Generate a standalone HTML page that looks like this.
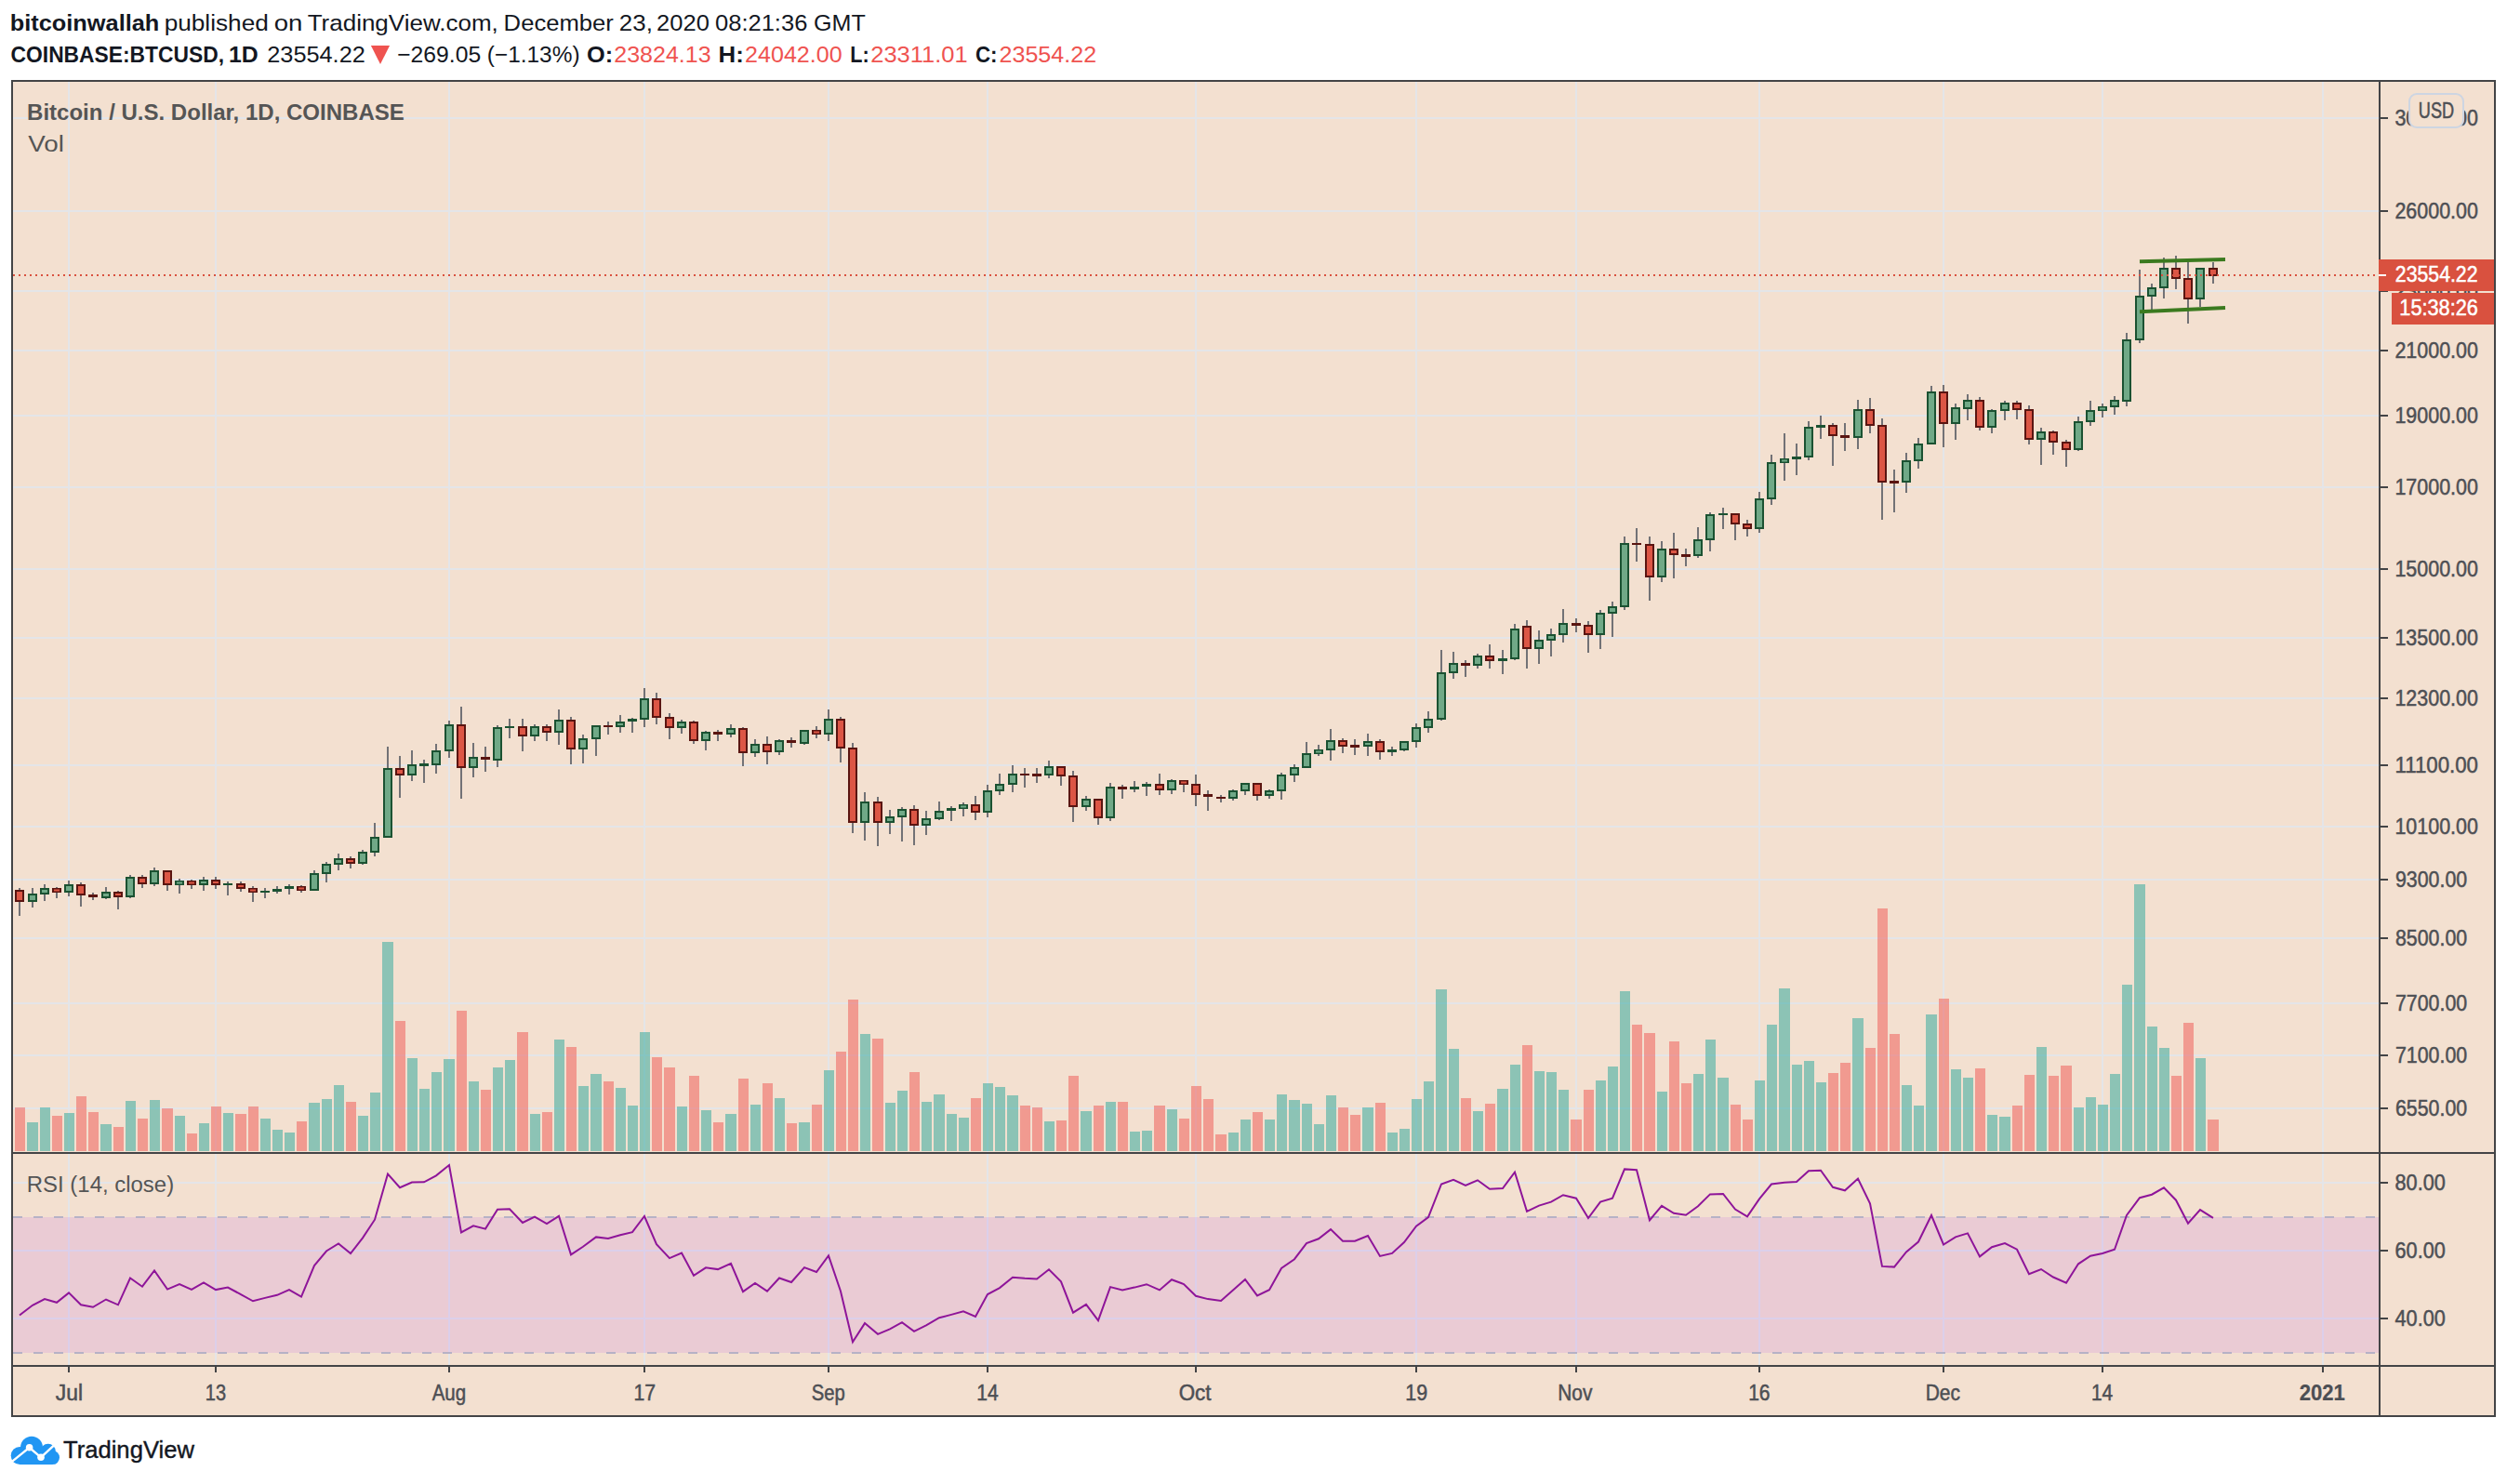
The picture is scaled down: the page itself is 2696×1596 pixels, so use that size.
<!DOCTYPE html>
<html><head><meta charset="utf-8"><title>BTCUSD chart</title>
<style>html,body{margin:0;padding:0;background:#fff}body{width:2696px;height:1596px;position:relative;overflow:hidden}</style></head>
<body>
<svg width="2696" height="1596" viewBox="0 0 2696 1596" font-family='"Liberation Sans", Arial, sans-serif' style="position:absolute;left:0;top:0">
<rect x="12" y="86" width="2672" height="1438" fill="#f3e0d0"/>
<g fill="#e4e5e8" shape-rendering="crispEdges">
<rect x="73" y="88" width="2" height="1380"/>
<rect x="231" y="88" width="2" height="1380"/>
<rect x="482" y="88" width="2" height="1380"/>
<rect x="692" y="88" width="2" height="1380"/>
<rect x="890" y="88" width="2" height="1380"/>
<rect x="1061" y="88" width="2" height="1380"/>
<rect x="1285" y="88" width="2" height="1380"/>
<rect x="1522" y="88" width="2" height="1380"/>
<rect x="1694" y="88" width="2" height="1380"/>
<rect x="1891" y="88" width="2" height="1380"/>
<rect x="2089" y="88" width="2" height="1380"/>
<rect x="2260" y="88" width="2" height="1380"/>
<rect x="2497" y="88" width="2" height="1380"/>
<rect x="14" y="126" width="2544" height="2"/>
<rect x="14" y="226" width="2544" height="2"/>
<rect x="14" y="312" width="2544" height="2"/>
<rect x="14" y="376" width="2544" height="2"/>
<rect x="14" y="446" width="2544" height="2"/>
<rect x="14" y="523" width="2544" height="2"/>
<rect x="14" y="611" width="2544" height="2"/>
<rect x="14" y="685" width="2544" height="2"/>
<rect x="14" y="750" width="2544" height="2"/>
<rect x="14" y="822" width="2544" height="2"/>
<rect x="14" y="888" width="2544" height="2"/>
<rect x="14" y="945" width="2544" height="2"/>
<rect x="14" y="1008" width="2544" height="2"/>
<rect x="14" y="1078" width="2544" height="2"/>
<rect x="14" y="1134" width="2544" height="2"/>
<rect x="14" y="1191" width="2544" height="2"/>
<rect x="14" y="1271" width="2544" height="2"/>
<rect x="14" y="1344" width="2544" height="2"/>
<rect x="14" y="1417" width="2544" height="2"/>
</g>
<rect x="14" y="1309" width="2544" height="146" fill="rgba(153,21,255,0.1)"/>
<line x1="14" y1="1309" x2="2558" y2="1309" stroke="#b6b2c6" stroke-width="2" stroke-dasharray="10 12"/>
<line x1="14" y1="1455" x2="2558" y2="1455" stroke="#b6b2c6" stroke-width="2" stroke-dasharray="10 12"/>
<g shape-rendering="crispEdges">
<rect x="16" y="1191" width="11" height="47" fill="rgba(239,83,80,0.5)"/>
<rect x="29" y="1207" width="12" height="31" fill="rgba(38,166,154,0.5)"/>
<rect x="43" y="1191" width="11" height="47" fill="rgba(38,166,154,0.5)"/>
<rect x="56" y="1200" width="11" height="38" fill="rgba(239,83,80,0.5)"/>
<rect x="69" y="1197" width="11" height="41" fill="rgba(38,166,154,0.5)"/>
<rect x="82" y="1179" width="11" height="59" fill="rgba(239,83,80,0.5)"/>
<rect x="95" y="1196" width="11" height="42" fill="rgba(239,83,80,0.5)"/>
<rect x="108" y="1209" width="12" height="29" fill="rgba(38,166,154,0.5)"/>
<rect x="122" y="1212" width="11" height="26" fill="rgba(239,83,80,0.5)"/>
<rect x="135" y="1184" width="11" height="54" fill="rgba(38,166,154,0.5)"/>
<rect x="148" y="1203" width="11" height="35" fill="rgba(239,83,80,0.5)"/>
<rect x="161" y="1183" width="11" height="55" fill="rgba(38,166,154,0.5)"/>
<rect x="174" y="1192" width="12" height="46" fill="rgba(239,83,80,0.5)"/>
<rect x="188" y="1200" width="11" height="38" fill="rgba(38,166,154,0.5)"/>
<rect x="201" y="1219" width="11" height="19" fill="rgba(239,83,80,0.5)"/>
<rect x="214" y="1208" width="11" height="30" fill="rgba(38,166,154,0.5)"/>
<rect x="227" y="1190" width="11" height="48" fill="rgba(239,83,80,0.5)"/>
<rect x="240" y="1197" width="11" height="41" fill="rgba(38,166,154,0.5)"/>
<rect x="253" y="1198" width="12" height="40" fill="rgba(239,83,80,0.5)"/>
<rect x="267" y="1190" width="11" height="48" fill="rgba(239,83,80,0.5)"/>
<rect x="280" y="1203" width="11" height="35" fill="rgba(38,166,154,0.5)"/>
<rect x="293" y="1215" width="11" height="23" fill="rgba(38,166,154,0.5)"/>
<rect x="306" y="1218" width="11" height="20" fill="rgba(38,166,154,0.5)"/>
<rect x="319" y="1206" width="11" height="32" fill="rgba(239,83,80,0.5)"/>
<rect x="332" y="1186" width="12" height="52" fill="rgba(38,166,154,0.5)"/>
<rect x="346" y="1182" width="11" height="56" fill="rgba(38,166,154,0.5)"/>
<rect x="359" y="1167" width="11" height="71" fill="rgba(38,166,154,0.5)"/>
<rect x="372" y="1185" width="11" height="53" fill="rgba(239,83,80,0.5)"/>
<rect x="385" y="1200" width="11" height="38" fill="rgba(38,166,154,0.5)"/>
<rect x="398" y="1175" width="11" height="63" fill="rgba(38,166,154,0.5)"/>
<rect x="411" y="1013" width="12" height="225" fill="rgba(38,166,154,0.5)"/>
<rect x="425" y="1098" width="11" height="140" fill="rgba(239,83,80,0.5)"/>
<rect x="438" y="1138" width="11" height="100" fill="rgba(38,166,154,0.5)"/>
<rect x="451" y="1171" width="11" height="67" fill="rgba(38,166,154,0.5)"/>
<rect x="464" y="1153" width="11" height="85" fill="rgba(38,166,154,0.5)"/>
<rect x="477" y="1139" width="12" height="99" fill="rgba(38,166,154,0.5)"/>
<rect x="491" y="1087" width="11" height="151" fill="rgba(239,83,80,0.5)"/>
<rect x="504" y="1163" width="11" height="75" fill="rgba(38,166,154,0.5)"/>
<rect x="517" y="1172" width="11" height="66" fill="rgba(239,83,80,0.5)"/>
<rect x="530" y="1148" width="11" height="90" fill="rgba(38,166,154,0.5)"/>
<rect x="543" y="1140" width="11" height="98" fill="rgba(38,166,154,0.5)"/>
<rect x="556" y="1110" width="12" height="128" fill="rgba(239,83,80,0.5)"/>
<rect x="570" y="1198" width="11" height="40" fill="rgba(38,166,154,0.5)"/>
<rect x="583" y="1196" width="11" height="42" fill="rgba(239,83,80,0.5)"/>
<rect x="596" y="1118" width="11" height="120" fill="rgba(38,166,154,0.5)"/>
<rect x="609" y="1126" width="11" height="112" fill="rgba(239,83,80,0.5)"/>
<rect x="622" y="1168" width="11" height="70" fill="rgba(38,166,154,0.5)"/>
<rect x="635" y="1155" width="12" height="83" fill="rgba(38,166,154,0.5)"/>
<rect x="649" y="1163" width="11" height="75" fill="rgba(239,83,80,0.5)"/>
<rect x="662" y="1170" width="11" height="68" fill="rgba(38,166,154,0.5)"/>
<rect x="675" y="1189" width="11" height="49" fill="rgba(38,166,154,0.5)"/>
<rect x="688" y="1110" width="11" height="128" fill="rgba(38,166,154,0.5)"/>
<rect x="701" y="1137" width="11" height="101" fill="rgba(239,83,80,0.5)"/>
<rect x="714" y="1148" width="12" height="90" fill="rgba(239,83,80,0.5)"/>
<rect x="728" y="1190" width="11" height="48" fill="rgba(38,166,154,0.5)"/>
<rect x="741" y="1157" width="11" height="81" fill="rgba(239,83,80,0.5)"/>
<rect x="754" y="1194" width="11" height="44" fill="rgba(38,166,154,0.5)"/>
<rect x="767" y="1207" width="11" height="31" fill="rgba(239,83,80,0.5)"/>
<rect x="780" y="1198" width="12" height="40" fill="rgba(38,166,154,0.5)"/>
<rect x="794" y="1160" width="11" height="78" fill="rgba(239,83,80,0.5)"/>
<rect x="807" y="1188" width="11" height="50" fill="rgba(38,166,154,0.5)"/>
<rect x="820" y="1165" width="11" height="73" fill="rgba(239,83,80,0.5)"/>
<rect x="833" y="1181" width="11" height="57" fill="rgba(38,166,154,0.5)"/>
<rect x="846" y="1208" width="11" height="30" fill="rgba(239,83,80,0.5)"/>
<rect x="859" y="1207" width="12" height="31" fill="rgba(38,166,154,0.5)"/>
<rect x="873" y="1188" width="11" height="50" fill="rgba(239,83,80,0.5)"/>
<rect x="886" y="1151" width="11" height="87" fill="rgba(38,166,154,0.5)"/>
<rect x="899" y="1131" width="11" height="107" fill="rgba(239,83,80,0.5)"/>
<rect x="912" y="1075" width="11" height="163" fill="rgba(239,83,80,0.5)"/>
<rect x="925" y="1112" width="11" height="126" fill="rgba(38,166,154,0.5)"/>
<rect x="938" y="1117" width="12" height="121" fill="rgba(239,83,80,0.5)"/>
<rect x="952" y="1186" width="11" height="52" fill="rgba(38,166,154,0.5)"/>
<rect x="965" y="1173" width="11" height="65" fill="rgba(38,166,154,0.5)"/>
<rect x="978" y="1153" width="11" height="85" fill="rgba(239,83,80,0.5)"/>
<rect x="991" y="1185" width="11" height="53" fill="rgba(38,166,154,0.5)"/>
<rect x="1004" y="1177" width="12" height="61" fill="rgba(38,166,154,0.5)"/>
<rect x="1018" y="1198" width="11" height="40" fill="rgba(38,166,154,0.5)"/>
<rect x="1031" y="1202" width="11" height="36" fill="rgba(38,166,154,0.5)"/>
<rect x="1044" y="1181" width="11" height="57" fill="rgba(239,83,80,0.5)"/>
<rect x="1057" y="1165" width="11" height="73" fill="rgba(38,166,154,0.5)"/>
<rect x="1070" y="1169" width="11" height="69" fill="rgba(38,166,154,0.5)"/>
<rect x="1083" y="1178" width="12" height="60" fill="rgba(38,166,154,0.5)"/>
<rect x="1097" y="1189" width="11" height="49" fill="rgba(239,83,80,0.5)"/>
<rect x="1110" y="1191" width="11" height="47" fill="rgba(239,83,80,0.5)"/>
<rect x="1123" y="1206" width="11" height="32" fill="rgba(38,166,154,0.5)"/>
<rect x="1136" y="1205" width="11" height="33" fill="rgba(239,83,80,0.5)"/>
<rect x="1149" y="1157" width="11" height="81" fill="rgba(239,83,80,0.5)"/>
<rect x="1162" y="1195" width="12" height="43" fill="rgba(38,166,154,0.5)"/>
<rect x="1176" y="1189" width="11" height="49" fill="rgba(239,83,80,0.5)"/>
<rect x="1189" y="1185" width="11" height="53" fill="rgba(38,166,154,0.5)"/>
<rect x="1202" y="1185" width="11" height="53" fill="rgba(239,83,80,0.5)"/>
<rect x="1215" y="1217" width="11" height="21" fill="rgba(38,166,154,0.5)"/>
<rect x="1228" y="1216" width="11" height="22" fill="rgba(38,166,154,0.5)"/>
<rect x="1241" y="1189" width="12" height="49" fill="rgba(239,83,80,0.5)"/>
<rect x="1255" y="1193" width="11" height="45" fill="rgba(38,166,154,0.5)"/>
<rect x="1268" y="1203" width="11" height="35" fill="rgba(239,83,80,0.5)"/>
<rect x="1281" y="1168" width="11" height="70" fill="rgba(239,83,80,0.5)"/>
<rect x="1294" y="1182" width="11" height="56" fill="rgba(239,83,80,0.5)"/>
<rect x="1307" y="1220" width="12" height="18" fill="rgba(239,83,80,0.5)"/>
<rect x="1321" y="1218" width="11" height="20" fill="rgba(38,166,154,0.5)"/>
<rect x="1334" y="1204" width="11" height="34" fill="rgba(38,166,154,0.5)"/>
<rect x="1347" y="1196" width="11" height="42" fill="rgba(239,83,80,0.5)"/>
<rect x="1360" y="1204" width="11" height="34" fill="rgba(38,166,154,0.5)"/>
<rect x="1373" y="1177" width="11" height="61" fill="rgba(38,166,154,0.5)"/>
<rect x="1386" y="1183" width="12" height="55" fill="rgba(38,166,154,0.5)"/>
<rect x="1400" y="1187" width="11" height="51" fill="rgba(38,166,154,0.5)"/>
<rect x="1413" y="1209" width="11" height="29" fill="rgba(38,166,154,0.5)"/>
<rect x="1426" y="1178" width="11" height="60" fill="rgba(38,166,154,0.5)"/>
<rect x="1439" y="1191" width="11" height="47" fill="rgba(239,83,80,0.5)"/>
<rect x="1452" y="1199" width="11" height="39" fill="rgba(239,83,80,0.5)"/>
<rect x="1465" y="1191" width="12" height="47" fill="rgba(38,166,154,0.5)"/>
<rect x="1479" y="1186" width="11" height="52" fill="rgba(239,83,80,0.5)"/>
<rect x="1492" y="1218" width="11" height="20" fill="rgba(38,166,154,0.5)"/>
<rect x="1505" y="1214" width="11" height="24" fill="rgba(38,166,154,0.5)"/>
<rect x="1518" y="1182" width="11" height="56" fill="rgba(38,166,154,0.5)"/>
<rect x="1531" y="1163" width="11" height="75" fill="rgba(38,166,154,0.5)"/>
<rect x="1544" y="1064" width="12" height="174" fill="rgba(38,166,154,0.5)"/>
<rect x="1558" y="1128" width="11" height="110" fill="rgba(38,166,154,0.5)"/>
<rect x="1571" y="1181" width="11" height="57" fill="rgba(239,83,80,0.5)"/>
<rect x="1584" y="1195" width="11" height="43" fill="rgba(38,166,154,0.5)"/>
<rect x="1597" y="1187" width="11" height="51" fill="rgba(239,83,80,0.5)"/>
<rect x="1610" y="1171" width="12" height="67" fill="rgba(38,166,154,0.5)"/>
<rect x="1624" y="1145" width="11" height="93" fill="rgba(38,166,154,0.5)"/>
<rect x="1637" y="1124" width="11" height="114" fill="rgba(239,83,80,0.5)"/>
<rect x="1650" y="1152" width="11" height="86" fill="rgba(38,166,154,0.5)"/>
<rect x="1663" y="1153" width="11" height="85" fill="rgba(38,166,154,0.5)"/>
<rect x="1676" y="1172" width="11" height="66" fill="rgba(38,166,154,0.5)"/>
<rect x="1689" y="1204" width="12" height="34" fill="rgba(239,83,80,0.5)"/>
<rect x="1703" y="1172" width="11" height="66" fill="rgba(239,83,80,0.5)"/>
<rect x="1716" y="1162" width="11" height="76" fill="rgba(38,166,154,0.5)"/>
<rect x="1729" y="1147" width="11" height="91" fill="rgba(38,166,154,0.5)"/>
<rect x="1742" y="1066" width="11" height="172" fill="rgba(38,166,154,0.5)"/>
<rect x="1755" y="1102" width="11" height="136" fill="rgba(239,83,80,0.5)"/>
<rect x="1768" y="1111" width="12" height="127" fill="rgba(239,83,80,0.5)"/>
<rect x="1782" y="1174" width="11" height="64" fill="rgba(38,166,154,0.5)"/>
<rect x="1795" y="1120" width="11" height="118" fill="rgba(239,83,80,0.5)"/>
<rect x="1808" y="1165" width="11" height="73" fill="rgba(239,83,80,0.5)"/>
<rect x="1821" y="1155" width="11" height="83" fill="rgba(38,166,154,0.5)"/>
<rect x="1834" y="1118" width="11" height="120" fill="rgba(38,166,154,0.5)"/>
<rect x="1847" y="1159" width="12" height="79" fill="rgba(38,166,154,0.5)"/>
<rect x="1861" y="1188" width="11" height="50" fill="rgba(239,83,80,0.5)"/>
<rect x="1874" y="1204" width="11" height="34" fill="rgba(239,83,80,0.5)"/>
<rect x="1887" y="1162" width="11" height="76" fill="rgba(38,166,154,0.5)"/>
<rect x="1900" y="1102" width="11" height="136" fill="rgba(38,166,154,0.5)"/>
<rect x="1913" y="1063" width="12" height="175" fill="rgba(38,166,154,0.5)"/>
<rect x="1927" y="1145" width="11" height="93" fill="rgba(38,166,154,0.5)"/>
<rect x="1940" y="1141" width="11" height="97" fill="rgba(38,166,154,0.5)"/>
<rect x="1953" y="1164" width="11" height="74" fill="rgba(38,166,154,0.5)"/>
<rect x="1966" y="1154" width="11" height="84" fill="rgba(239,83,80,0.5)"/>
<rect x="1979" y="1143" width="11" height="95" fill="rgba(239,83,80,0.5)"/>
<rect x="1992" y="1095" width="12" height="143" fill="rgba(38,166,154,0.5)"/>
<rect x="2006" y="1127" width="11" height="111" fill="rgba(239,83,80,0.5)"/>
<rect x="2019" y="977" width="11" height="261" fill="rgba(239,83,80,0.5)"/>
<rect x="2032" y="1112" width="11" height="126" fill="rgba(239,83,80,0.5)"/>
<rect x="2045" y="1167" width="11" height="71" fill="rgba(38,166,154,0.5)"/>
<rect x="2058" y="1189" width="11" height="49" fill="rgba(38,166,154,0.5)"/>
<rect x="2071" y="1091" width="12" height="147" fill="rgba(38,166,154,0.5)"/>
<rect x="2085" y="1074" width="11" height="164" fill="rgba(239,83,80,0.5)"/>
<rect x="2098" y="1150" width="11" height="88" fill="rgba(38,166,154,0.5)"/>
<rect x="2111" y="1159" width="11" height="79" fill="rgba(38,166,154,0.5)"/>
<rect x="2124" y="1149" width="11" height="89" fill="rgba(239,83,80,0.5)"/>
<rect x="2137" y="1199" width="11" height="39" fill="rgba(38,166,154,0.5)"/>
<rect x="2150" y="1201" width="12" height="37" fill="rgba(38,166,154,0.5)"/>
<rect x="2164" y="1189" width="11" height="49" fill="rgba(239,83,80,0.5)"/>
<rect x="2177" y="1156" width="11" height="82" fill="rgba(239,83,80,0.5)"/>
<rect x="2190" y="1126" width="11" height="112" fill="rgba(38,166,154,0.5)"/>
<rect x="2203" y="1157" width="11" height="81" fill="rgba(239,83,80,0.5)"/>
<rect x="2216" y="1146" width="12" height="92" fill="rgba(239,83,80,0.5)"/>
<rect x="2230" y="1191" width="11" height="47" fill="rgba(38,166,154,0.5)"/>
<rect x="2243" y="1180" width="11" height="58" fill="rgba(38,166,154,0.5)"/>
<rect x="2256" y="1188" width="11" height="50" fill="rgba(38,166,154,0.5)"/>
<rect x="2269" y="1155" width="11" height="83" fill="rgba(38,166,154,0.5)"/>
<rect x="2282" y="1059" width="11" height="179" fill="rgba(38,166,154,0.5)"/>
<rect x="2295" y="951" width="12" height="287" fill="rgba(38,166,154,0.5)"/>
<rect x="2309" y="1104" width="11" height="134" fill="rgba(38,166,154,0.5)"/>
<rect x="2322" y="1127" width="11" height="111" fill="rgba(38,166,154,0.5)"/>
<rect x="2335" y="1157" width="11" height="81" fill="rgba(239,83,80,0.5)"/>
<rect x="2348" y="1100" width="11" height="138" fill="rgba(239,83,80,0.5)"/>
<rect x="2361" y="1138" width="11" height="100" fill="rgba(38,166,154,0.5)"/>
<rect x="2374" y="1204" width="12" height="34" fill="rgba(239,83,80,0.5)"/>
</g>
<g shape-rendering="crispEdges">
<rect x="20" y="955" width="2" height="30" fill="#727276"/>
<rect x="16" y="957" width="10" height="13" fill="#5a1511"/><rect x="18" y="959" width="6" height="9" fill="#dc5645"/>
<rect x="34" y="955" width="2" height="21" fill="#727276"/>
<rect x="30" y="961" width="10" height="9" fill="#1b5232"/><rect x="32" y="963" width="6" height="5" fill="#70a987"/>
<rect x="47" y="951" width="2" height="18" fill="#727276"/>
<rect x="43" y="955" width="10" height="7" fill="#1b5232"/><rect x="45" y="957" width="6" height="3" fill="#70a987"/>
<rect x="60" y="954" width="2" height="12" fill="#727276"/>
<rect x="56" y="955" width="10" height="5" fill="#5a1511"/><rect x="58" y="956.5" width="6" height="2" fill="#dc5645" shape-rendering="auto"/>
<rect x="73" y="947" width="2" height="17" fill="#727276"/>
<rect x="69" y="951" width="10" height="9" fill="#1b5232"/><rect x="71" y="953" width="6" height="5" fill="#70a987"/>
<rect x="86" y="949" width="2" height="26" fill="#727276"/>
<rect x="82" y="951" width="10" height="12" fill="#5a1511"/><rect x="84" y="953" width="6" height="8" fill="#dc5645"/>
<rect x="99" y="960" width="2" height="8" fill="#727276"/>
<rect x="95" y="962" width="10" height="3" fill="#5a1511"/>
<rect x="113" y="954" width="2" height="13" fill="#727276"/>
<rect x="109" y="959" width="10" height="7" fill="#1b5232"/><rect x="111" y="961" width="6" height="3" fill="#70a987"/>
<rect x="126" y="958" width="2" height="20" fill="#727276"/>
<rect x="122" y="959" width="10" height="6" fill="#5a1511"/><rect x="124" y="961" width="6" height="2" fill="#dc5645"/>
<rect x="139" y="941" width="2" height="25" fill="#727276"/>
<rect x="135" y="943" width="10" height="22" fill="#1b5232"/><rect x="137" y="945" width="6" height="18" fill="#70a987"/>
<rect x="152" y="941" width="2" height="14" fill="#727276"/>
<rect x="148" y="943" width="10" height="8" fill="#5a1511"/><rect x="150" y="945" width="6" height="4" fill="#dc5645"/>
<rect x="165" y="933" width="2" height="20" fill="#727276"/>
<rect x="161" y="936" width="10" height="15" fill="#1b5232"/><rect x="163" y="938" width="6" height="11" fill="#70a987"/>
<rect x="179" y="936" width="2" height="22" fill="#727276"/>
<rect x="175" y="936" width="10" height="16" fill="#5a1511"/><rect x="177" y="938" width="6" height="12" fill="#dc5645"/>
<rect x="192" y="945" width="2" height="16" fill="#727276"/>
<rect x="188" y="947" width="10" height="5" fill="#1b5232"/><rect x="190" y="948.5" width="6" height="2" fill="#70a987" shape-rendering="auto"/>
<rect x="205" y="946" width="2" height="10" fill="#727276"/>
<rect x="201" y="947" width="10" height="5" fill="#5a1511"/><rect x="203" y="948.5" width="6" height="2" fill="#dc5645" shape-rendering="auto"/>
<rect x="218" y="943" width="2" height="15" fill="#727276"/>
<rect x="214" y="946" width="10" height="6" fill="#1b5232"/><rect x="216" y="948" width="6" height="2" fill="#70a987"/>
<rect x="231" y="943" width="2" height="13" fill="#727276"/>
<rect x="227" y="946" width="10" height="6" fill="#5a1511"/><rect x="229" y="948" width="6" height="2" fill="#dc5645"/>
<rect x="244" y="948" width="2" height="15" fill="#727276"/>
<rect x="240" y="950" width="10" height="2" fill="#1b5232"/>
<rect x="258" y="948" width="2" height="11" fill="#727276"/>
<rect x="254" y="950" width="10" height="6" fill="#5a1511"/><rect x="256" y="952" width="6" height="2" fill="#dc5645"/>
<rect x="271" y="953" width="2" height="17" fill="#727276"/>
<rect x="267" y="955" width="10" height="5" fill="#5a1511"/><rect x="269" y="956.5" width="6" height="2" fill="#dc5645" shape-rendering="auto"/>
<rect x="284" y="955" width="2" height="11" fill="#727276"/>
<rect x="280" y="958" width="10" height="2" fill="#1b5232"/>
<rect x="297" y="953" width="2" height="8" fill="#727276"/>
<rect x="293" y="956" width="10" height="3" fill="#1b5232"/>
<rect x="310" y="951" width="2" height="11" fill="#727276"/>
<rect x="306" y="953" width="10" height="3" fill="#1b5232"/>
<rect x="323" y="952" width="2" height="8" fill="#727276"/>
<rect x="319" y="953" width="10" height="5" fill="#5a1511"/><rect x="321" y="954.5" width="6" height="2" fill="#dc5645" shape-rendering="auto"/>
<rect x="337" y="936" width="2" height="22" fill="#727276"/>
<rect x="333" y="939" width="10" height="19" fill="#1b5232"/><rect x="335" y="941" width="6" height="15" fill="#70a987"/>
<rect x="350" y="927" width="2" height="22" fill="#727276"/>
<rect x="346" y="929" width="10" height="11" fill="#1b5232"/><rect x="348" y="931" width="6" height="7" fill="#70a987"/>
<rect x="363" y="918" width="2" height="18" fill="#727276"/>
<rect x="359" y="923" width="10" height="7" fill="#1b5232"/><rect x="361" y="925" width="6" height="3" fill="#70a987"/>
<rect x="376" y="921" width="2" height="13" fill="#727276"/>
<rect x="372" y="923" width="10" height="6" fill="#5a1511"/><rect x="374" y="925" width="6" height="2" fill="#dc5645"/>
<rect x="389" y="914" width="2" height="16" fill="#727276"/>
<rect x="385" y="916" width="10" height="13" fill="#1b5232"/><rect x="387" y="918" width="6" height="9" fill="#70a987"/>
<rect x="402" y="885" width="2" height="36" fill="#727276"/>
<rect x="398" y="900" width="10" height="17" fill="#1b5232"/><rect x="400" y="902" width="6" height="13" fill="#70a987"/>
<rect x="416" y="803" width="2" height="98" fill="#727276"/>
<rect x="412" y="826" width="10" height="75" fill="#1b5232"/><rect x="414" y="828" width="6" height="71" fill="#70a987"/>
<rect x="429" y="813" width="2" height="45" fill="#727276"/>
<rect x="425" y="826" width="10" height="8" fill="#5a1511"/><rect x="427" y="828" width="6" height="4" fill="#dc5645"/>
<rect x="442" y="807" width="2" height="33" fill="#727276"/>
<rect x="438" y="822" width="10" height="12" fill="#1b5232"/><rect x="440" y="824" width="6" height="8" fill="#70a987"/>
<rect x="455" y="817" width="2" height="25" fill="#727276"/>
<rect x="451" y="821" width="10" height="3" fill="#1b5232"/>
<rect x="468" y="800" width="2" height="32" fill="#727276"/>
<rect x="464" y="807" width="10" height="16" fill="#1b5232"/><rect x="466" y="809" width="6" height="12" fill="#70a987"/>
<rect x="482" y="775" width="2" height="40" fill="#727276"/>
<rect x="478" y="779" width="10" height="29" fill="#1b5232"/><rect x="480" y="781" width="6" height="25" fill="#70a987"/>
<rect x="495" y="760" width="2" height="99" fill="#727276"/>
<rect x="491" y="779" width="10" height="47" fill="#5a1511"/><rect x="493" y="781" width="6" height="43" fill="#dc5645"/>
<rect x="508" y="799" width="2" height="37" fill="#727276"/>
<rect x="504" y="814" width="10" height="12" fill="#1b5232"/><rect x="506" y="816" width="6" height="8" fill="#70a987"/>
<rect x="521" y="803" width="2" height="27" fill="#727276"/>
<rect x="517" y="814" width="10" height="3" fill="#5a1511"/>
<rect x="534" y="780" width="2" height="45" fill="#727276"/>
<rect x="530" y="782" width="10" height="36" fill="#1b5232"/><rect x="532" y="784" width="6" height="32" fill="#70a987"/>
<rect x="547" y="773" width="2" height="21" fill="#727276"/>
<rect x="543" y="781" width="10" height="2" fill="#1b5232"/>
<rect x="561" y="773" width="2" height="35" fill="#727276"/>
<rect x="557" y="781" width="10" height="11" fill="#5a1511"/><rect x="559" y="783" width="6" height="7" fill="#dc5645"/>
<rect x="574" y="779" width="2" height="18" fill="#727276"/>
<rect x="570" y="781" width="10" height="11" fill="#1b5232"/><rect x="572" y="783" width="6" height="7" fill="#70a987"/>
<rect x="587" y="779" width="2" height="18" fill="#727276"/>
<rect x="583" y="781" width="10" height="7" fill="#5a1511"/><rect x="585" y="783" width="6" height="3" fill="#dc5645"/>
<rect x="600" y="763" width="2" height="38" fill="#727276"/>
<rect x="596" y="774" width="10" height="14" fill="#1b5232"/><rect x="598" y="776" width="6" height="10" fill="#70a987"/>
<rect x="613" y="771" width="2" height="51" fill="#727276"/>
<rect x="609" y="774" width="10" height="32" fill="#5a1511"/><rect x="611" y="776" width="6" height="28" fill="#dc5645"/>
<rect x="626" y="790" width="2" height="31" fill="#727276"/>
<rect x="622" y="794" width="10" height="12" fill="#1b5232"/><rect x="624" y="796" width="6" height="8" fill="#70a987"/>
<rect x="640" y="780" width="2" height="33" fill="#727276"/>
<rect x="636" y="780" width="10" height="15" fill="#1b5232"/><rect x="638" y="782" width="6" height="11" fill="#70a987"/>
<rect x="653" y="776" width="2" height="14" fill="#727276"/>
<rect x="649" y="780" width="10" height="2" fill="#5a1511"/>
<rect x="666" y="769" width="2" height="19" fill="#727276"/>
<rect x="662" y="776" width="10" height="6" fill="#1b5232"/><rect x="664" y="778" width="6" height="2" fill="#70a987"/>
<rect x="679" y="772" width="2" height="16" fill="#727276"/>
<rect x="675" y="773" width="10" height="3" fill="#1b5232"/>
<rect x="692" y="740" width="2" height="42" fill="#727276"/>
<rect x="688" y="751" width="10" height="23" fill="#1b5232"/><rect x="690" y="753" width="6" height="19" fill="#70a987"/>
<rect x="705" y="745" width="2" height="34" fill="#727276"/>
<rect x="701" y="751" width="10" height="21" fill="#5a1511"/><rect x="703" y="753" width="6" height="17" fill="#dc5645"/>
<rect x="719" y="767" width="2" height="28" fill="#727276"/>
<rect x="715" y="771" width="10" height="12" fill="#5a1511"/><rect x="717" y="773" width="6" height="8" fill="#dc5645"/>
<rect x="732" y="774" width="2" height="15" fill="#727276"/>
<rect x="728" y="776" width="10" height="7" fill="#1b5232"/><rect x="730" y="778" width="6" height="3" fill="#70a987"/>
<rect x="745" y="775" width="2" height="25" fill="#727276"/>
<rect x="741" y="776" width="10" height="21" fill="#5a1511"/><rect x="743" y="778" width="6" height="17" fill="#dc5645"/>
<rect x="758" y="786" width="2" height="21" fill="#727276"/>
<rect x="754" y="787" width="10" height="10" fill="#1b5232"/><rect x="756" y="789" width="6" height="6" fill="#70a987"/>
<rect x="771" y="785" width="2" height="12" fill="#727276"/>
<rect x="767" y="787" width="10" height="3" fill="#5a1511"/>
<rect x="785" y="779" width="2" height="14" fill="#727276"/>
<rect x="781" y="783" width="10" height="7" fill="#1b5232"/><rect x="783" y="785" width="6" height="3" fill="#70a987"/>
<rect x="798" y="782" width="2" height="42" fill="#727276"/>
<rect x="794" y="783" width="10" height="27" fill="#5a1511"/><rect x="796" y="785" width="6" height="23" fill="#dc5645"/>
<rect x="811" y="795" width="2" height="19" fill="#727276"/>
<rect x="807" y="800" width="10" height="10" fill="#1b5232"/><rect x="809" y="802" width="6" height="6" fill="#70a987"/>
<rect x="824" y="792" width="2" height="30" fill="#727276"/>
<rect x="820" y="800" width="10" height="9" fill="#5a1511"/><rect x="822" y="802" width="6" height="5" fill="#dc5645"/>
<rect x="837" y="795" width="2" height="17" fill="#727276"/>
<rect x="833" y="796" width="10" height="13" fill="#1b5232"/><rect x="835" y="798" width="6" height="9" fill="#70a987"/>
<rect x="850" y="793" width="2" height="11" fill="#727276"/>
<rect x="846" y="796" width="10" height="3" fill="#5a1511"/>
<rect x="864" y="785" width="2" height="16" fill="#727276"/>
<rect x="860" y="785" width="10" height="15" fill="#1b5232"/><rect x="862" y="787" width="6" height="11" fill="#70a987"/>
<rect x="877" y="781" width="2" height="13" fill="#727276"/>
<rect x="873" y="785" width="10" height="5" fill="#5a1511"/><rect x="875" y="786.5" width="6" height="2" fill="#dc5645" shape-rendering="auto"/>
<rect x="890" y="763" width="2" height="34" fill="#727276"/>
<rect x="886" y="773" width="10" height="17" fill="#1b5232"/><rect x="888" y="775" width="6" height="13" fill="#70a987"/>
<rect x="903" y="771" width="2" height="49" fill="#727276"/>
<rect x="899" y="773" width="10" height="32" fill="#5a1511"/><rect x="901" y="775" width="6" height="28" fill="#dc5645"/>
<rect x="916" y="799" width="2" height="97" fill="#727276"/>
<rect x="912" y="804" width="10" height="81" fill="#5a1511"/><rect x="914" y="806" width="6" height="77" fill="#dc5645"/>
<rect x="929" y="852" width="2" height="52" fill="#727276"/>
<rect x="925" y="862" width="10" height="23" fill="#1b5232"/><rect x="927" y="864" width="6" height="19" fill="#70a987"/>
<rect x="943" y="857" width="2" height="53" fill="#727276"/>
<rect x="939" y="862" width="10" height="23" fill="#5a1511"/><rect x="941" y="864" width="6" height="19" fill="#dc5645"/>
<rect x="956" y="871" width="2" height="26" fill="#727276"/>
<rect x="952" y="878" width="10" height="7" fill="#1b5232"/><rect x="954" y="880" width="6" height="3" fill="#70a987"/>
<rect x="969" y="868" width="2" height="37" fill="#727276"/>
<rect x="965" y="870" width="10" height="9" fill="#1b5232"/><rect x="967" y="872" width="6" height="5" fill="#70a987"/>
<rect x="982" y="866" width="2" height="43" fill="#727276"/>
<rect x="978" y="870" width="10" height="18" fill="#5a1511"/><rect x="980" y="872" width="6" height="14" fill="#dc5645"/>
<rect x="995" y="872" width="2" height="26" fill="#727276"/>
<rect x="991" y="880" width="10" height="8" fill="#1b5232"/><rect x="993" y="882" width="6" height="4" fill="#70a987"/>
<rect x="1009" y="862" width="2" height="20" fill="#727276"/>
<rect x="1005" y="872" width="10" height="9" fill="#1b5232"/><rect x="1007" y="874" width="6" height="5" fill="#70a987"/>
<rect x="1022" y="867" width="2" height="16" fill="#727276"/>
<rect x="1018" y="869" width="10" height="3" fill="#1b5232"/>
<rect x="1035" y="863" width="2" height="15" fill="#727276"/>
<rect x="1031" y="865" width="10" height="5" fill="#1b5232"/><rect x="1033" y="866.5" width="6" height="2" fill="#70a987" shape-rendering="auto"/>
<rect x="1048" y="856" width="2" height="26" fill="#727276"/>
<rect x="1044" y="865" width="10" height="9" fill="#5a1511"/><rect x="1046" y="867" width="6" height="5" fill="#dc5645"/>
<rect x="1061" y="844" width="2" height="35" fill="#727276"/>
<rect x="1057" y="850" width="10" height="24" fill="#1b5232"/><rect x="1059" y="852" width="6" height="20" fill="#70a987"/>
<rect x="1074" y="832" width="2" height="23" fill="#727276"/>
<rect x="1070" y="843" width="10" height="8" fill="#1b5232"/><rect x="1072" y="845" width="6" height="4" fill="#70a987"/>
<rect x="1088" y="823" width="2" height="29" fill="#727276"/>
<rect x="1084" y="832" width="10" height="12" fill="#1b5232"/><rect x="1086" y="834" width="6" height="8" fill="#70a987"/>
<rect x="1101" y="826" width="2" height="21" fill="#727276"/>
<rect x="1097" y="832" width="10" height="2" fill="#5a1511"/>
<rect x="1114" y="826" width="2" height="16" fill="#727276"/>
<rect x="1110" y="832" width="10" height="3" fill="#5a1511"/>
<rect x="1127" y="818" width="2" height="19" fill="#727276"/>
<rect x="1123" y="824" width="10" height="10" fill="#1b5232"/><rect x="1125" y="826" width="6" height="6" fill="#70a987"/>
<rect x="1140" y="824" width="2" height="21" fill="#727276"/>
<rect x="1136" y="824" width="10" height="11" fill="#5a1511"/><rect x="1138" y="826" width="6" height="7" fill="#dc5645"/>
<rect x="1153" y="829" width="2" height="55" fill="#727276"/>
<rect x="1149" y="834" width="10" height="34" fill="#5a1511"/><rect x="1151" y="836" width="6" height="30" fill="#dc5645"/>
<rect x="1167" y="856" width="2" height="16" fill="#727276"/>
<rect x="1163" y="859" width="10" height="9" fill="#1b5232"/><rect x="1165" y="861" width="6" height="5" fill="#70a987"/>
<rect x="1180" y="859" width="2" height="28" fill="#727276"/>
<rect x="1176" y="859" width="10" height="21" fill="#5a1511"/><rect x="1178" y="861" width="6" height="17" fill="#dc5645"/>
<rect x="1193" y="842" width="2" height="41" fill="#727276"/>
<rect x="1189" y="846" width="10" height="34" fill="#1b5232"/><rect x="1191" y="848" width="6" height="30" fill="#70a987"/>
<rect x="1206" y="844" width="2" height="15" fill="#727276"/>
<rect x="1202" y="846" width="10" height="3" fill="#5a1511"/>
<rect x="1219" y="840" width="2" height="12" fill="#727276"/>
<rect x="1215" y="846" width="10" height="3" fill="#1b5232"/>
<rect x="1232" y="841" width="2" height="15" fill="#727276"/>
<rect x="1228" y="843" width="10" height="3" fill="#1b5232"/>
<rect x="1246" y="832" width="2" height="23" fill="#727276"/>
<rect x="1242" y="843" width="10" height="7" fill="#5a1511"/><rect x="1244" y="845" width="6" height="3" fill="#dc5645"/>
<rect x="1259" y="838" width="2" height="16" fill="#727276"/>
<rect x="1255" y="839" width="10" height="11" fill="#1b5232"/><rect x="1257" y="841" width="6" height="7" fill="#70a987"/>
<rect x="1272" y="839" width="2" height="13" fill="#727276"/>
<rect x="1268" y="839" width="10" height="5" fill="#5a1511"/><rect x="1270" y="840.5" width="6" height="2" fill="#dc5645" shape-rendering="auto"/>
<rect x="1285" y="833" width="2" height="34" fill="#727276"/>
<rect x="1281" y="843" width="10" height="12" fill="#5a1511"/><rect x="1283" y="845" width="6" height="8" fill="#dc5645"/>
<rect x="1298" y="850" width="2" height="22" fill="#727276"/>
<rect x="1294" y="854" width="10" height="3" fill="#5a1511"/>
<rect x="1312" y="855" width="2" height="8" fill="#727276"/>
<rect x="1308" y="857" width="10" height="2" fill="#5a1511"/>
<rect x="1325" y="849" width="2" height="12" fill="#727276"/>
<rect x="1321" y="850" width="10" height="9" fill="#1b5232"/><rect x="1323" y="852" width="6" height="5" fill="#70a987"/>
<rect x="1338" y="842" width="2" height="13" fill="#727276"/>
<rect x="1334" y="842" width="10" height="9" fill="#1b5232"/><rect x="1336" y="844" width="6" height="5" fill="#70a987"/>
<rect x="1351" y="842" width="2" height="19" fill="#727276"/>
<rect x="1347" y="842" width="10" height="14" fill="#5a1511"/><rect x="1349" y="844" width="6" height="10" fill="#dc5645"/>
<rect x="1364" y="849" width="2" height="10" fill="#727276"/>
<rect x="1360" y="850" width="10" height="6" fill="#1b5232"/><rect x="1362" y="852" width="6" height="2" fill="#70a987"/>
<rect x="1377" y="831" width="2" height="29" fill="#727276"/>
<rect x="1373" y="833" width="10" height="18" fill="#1b5232"/><rect x="1375" y="835" width="6" height="14" fill="#70a987"/>
<rect x="1391" y="822" width="2" height="19" fill="#727276"/>
<rect x="1387" y="825" width="10" height="9" fill="#1b5232"/><rect x="1389" y="827" width="6" height="5" fill="#70a987"/>
<rect x="1404" y="798" width="2" height="28" fill="#727276"/>
<rect x="1400" y="810" width="10" height="16" fill="#1b5232"/><rect x="1402" y="812" width="6" height="12" fill="#70a987"/>
<rect x="1417" y="801" width="2" height="12" fill="#727276"/>
<rect x="1413" y="806" width="10" height="5" fill="#1b5232"/><rect x="1415" y="807.5" width="6" height="2" fill="#70a987" shape-rendering="auto"/>
<rect x="1430" y="784" width="2" height="34" fill="#727276"/>
<rect x="1426" y="796" width="10" height="11" fill="#1b5232"/><rect x="1428" y="798" width="6" height="7" fill="#70a987"/>
<rect x="1443" y="794" width="2" height="16" fill="#727276"/>
<rect x="1439" y="796" width="10" height="7" fill="#5a1511"/><rect x="1441" y="798" width="6" height="3" fill="#dc5645"/>
<rect x="1456" y="795" width="2" height="17" fill="#727276"/>
<rect x="1452" y="801" width="10" height="3" fill="#5a1511"/>
<rect x="1470" y="789" width="2" height="24" fill="#727276"/>
<rect x="1466" y="797" width="10" height="6" fill="#1b5232"/><rect x="1468" y="799" width="6" height="2" fill="#70a987"/>
<rect x="1483" y="795" width="2" height="22" fill="#727276"/>
<rect x="1479" y="797" width="10" height="12" fill="#5a1511"/><rect x="1481" y="799" width="6" height="8" fill="#dc5645"/>
<rect x="1496" y="803" width="2" height="10" fill="#727276"/>
<rect x="1492" y="806" width="10" height="3" fill="#1b5232"/>
<rect x="1509" y="797" width="2" height="11" fill="#727276"/>
<rect x="1505" y="797" width="10" height="10" fill="#1b5232"/><rect x="1507" y="799" width="6" height="6" fill="#70a987"/>
<rect x="1522" y="778" width="2" height="26" fill="#727276"/>
<rect x="1518" y="782" width="10" height="16" fill="#1b5232"/><rect x="1520" y="784" width="6" height="12" fill="#70a987"/>
<rect x="1535" y="765" width="2" height="23" fill="#727276"/>
<rect x="1531" y="773" width="10" height="10" fill="#1b5232"/><rect x="1533" y="775" width="6" height="6" fill="#70a987"/>
<rect x="1549" y="699" width="2" height="76" fill="#727276"/>
<rect x="1545" y="723" width="10" height="51" fill="#1b5232"/><rect x="1547" y="725" width="6" height="47" fill="#70a987"/>
<rect x="1562" y="701" width="2" height="29" fill="#727276"/>
<rect x="1558" y="713" width="10" height="11" fill="#1b5232"/><rect x="1560" y="715" width="6" height="7" fill="#70a987"/>
<rect x="1575" y="710" width="2" height="18" fill="#727276"/>
<rect x="1571" y="713" width="10" height="3" fill="#5a1511"/>
<rect x="1588" y="703" width="2" height="16" fill="#727276"/>
<rect x="1584" y="705" width="10" height="11" fill="#1b5232"/><rect x="1586" y="707" width="6" height="7" fill="#70a987"/>
<rect x="1601" y="693" width="2" height="26" fill="#727276"/>
<rect x="1597" y="705" width="10" height="6" fill="#5a1511"/><rect x="1599" y="707" width="6" height="2" fill="#dc5645"/>
<rect x="1615" y="699" width="2" height="26" fill="#727276"/>
<rect x="1611" y="708" width="10" height="3" fill="#1b5232"/>
<rect x="1628" y="671" width="2" height="39" fill="#727276"/>
<rect x="1624" y="676" width="10" height="33" fill="#1b5232"/><rect x="1626" y="678" width="6" height="29" fill="#70a987"/>
<rect x="1641" y="667" width="2" height="52" fill="#727276"/>
<rect x="1637" y="673" width="10" height="25" fill="#5a1511"/><rect x="1639" y="675" width="6" height="21" fill="#dc5645"/>
<rect x="1654" y="678" width="2" height="36" fill="#727276"/>
<rect x="1650" y="688" width="10" height="10" fill="#1b5232"/><rect x="1652" y="690" width="6" height="6" fill="#70a987"/>
<rect x="1667" y="676" width="2" height="30" fill="#727276"/>
<rect x="1663" y="682" width="10" height="7" fill="#1b5232"/><rect x="1665" y="684" width="6" height="3" fill="#70a987"/>
<rect x="1680" y="655" width="2" height="36" fill="#727276"/>
<rect x="1676" y="670" width="10" height="13" fill="#1b5232"/><rect x="1678" y="672" width="6" height="9" fill="#70a987"/>
<rect x="1694" y="665" width="2" height="15" fill="#727276"/>
<rect x="1690" y="670" width="10" height="3" fill="#5a1511"/>
<rect x="1707" y="668" width="2" height="34" fill="#727276"/>
<rect x="1703" y="672" width="10" height="11" fill="#5a1511"/><rect x="1705" y="674" width="6" height="7" fill="#dc5645"/>
<rect x="1720" y="656" width="2" height="42" fill="#727276"/>
<rect x="1716" y="659" width="10" height="24" fill="#1b5232"/><rect x="1718" y="661" width="6" height="20" fill="#70a987"/>
<rect x="1733" y="647" width="2" height="38" fill="#727276"/>
<rect x="1729" y="652" width="10" height="8" fill="#1b5232"/><rect x="1731" y="654" width="6" height="4" fill="#70a987"/>
<rect x="1746" y="577" width="2" height="79" fill="#727276"/>
<rect x="1742" y="584" width="10" height="69" fill="#1b5232"/><rect x="1744" y="586" width="6" height="65" fill="#70a987"/>
<rect x="1759" y="568" width="2" height="36" fill="#727276"/>
<rect x="1755" y="584" width="10" height="2" fill="#5a1511"/>
<rect x="1773" y="577" width="2" height="69" fill="#727276"/>
<rect x="1769" y="585" width="10" height="36" fill="#5a1511"/><rect x="1771" y="587" width="6" height="32" fill="#dc5645"/>
<rect x="1786" y="582" width="2" height="44" fill="#727276"/>
<rect x="1782" y="590" width="10" height="31" fill="#1b5232"/><rect x="1784" y="592" width="6" height="27" fill="#70a987"/>
<rect x="1799" y="573" width="2" height="49" fill="#727276"/>
<rect x="1795" y="590" width="10" height="7" fill="#5a1511"/><rect x="1797" y="592" width="6" height="3" fill="#dc5645"/>
<rect x="1812" y="590" width="2" height="19" fill="#727276"/>
<rect x="1808" y="596" width="10" height="3" fill="#5a1511"/>
<rect x="1825" y="567" width="2" height="33" fill="#727276"/>
<rect x="1821" y="580" width="10" height="18" fill="#1b5232"/><rect x="1823" y="582" width="6" height="14" fill="#70a987"/>
<rect x="1838" y="551" width="2" height="42" fill="#727276"/>
<rect x="1834" y="553" width="10" height="28" fill="#1b5232"/><rect x="1836" y="555" width="6" height="24" fill="#70a987"/>
<rect x="1852" y="546" width="2" height="23" fill="#727276"/>
<rect x="1848" y="552" width="10" height="2" fill="#1b5232"/>
<rect x="1865" y="552" width="2" height="29" fill="#727276"/>
<rect x="1861" y="552" width="10" height="12" fill="#5a1511"/><rect x="1863" y="554" width="6" height="8" fill="#dc5645"/>
<rect x="1878" y="559" width="2" height="18" fill="#727276"/>
<rect x="1874" y="563" width="10" height="6" fill="#5a1511"/><rect x="1876" y="565" width="6" height="2" fill="#dc5645"/>
<rect x="1891" y="529" width="2" height="44" fill="#727276"/>
<rect x="1887" y="536" width="10" height="33" fill="#1b5232"/><rect x="1889" y="538" width="6" height="29" fill="#70a987"/>
<rect x="1904" y="489" width="2" height="54" fill="#727276"/>
<rect x="1900" y="497" width="10" height="40" fill="#1b5232"/><rect x="1902" y="499" width="6" height="36" fill="#70a987"/>
<rect x="1918" y="466" width="2" height="51" fill="#727276"/>
<rect x="1914" y="493" width="10" height="5" fill="#1b5232"/><rect x="1916" y="494.5" width="6" height="2" fill="#70a987" shape-rendering="auto"/>
<rect x="1931" y="477" width="2" height="34" fill="#727276"/>
<rect x="1927" y="491" width="10" height="3" fill="#1b5232"/>
<rect x="1944" y="453" width="2" height="42" fill="#727276"/>
<rect x="1940" y="459" width="10" height="33" fill="#1b5232"/><rect x="1942" y="461" width="6" height="29" fill="#70a987"/>
<rect x="1957" y="447" width="2" height="25" fill="#727276"/>
<rect x="1953" y="457" width="10" height="3" fill="#1b5232"/>
<rect x="1970" y="455" width="2" height="46" fill="#727276"/>
<rect x="1966" y="457" width="10" height="12" fill="#5a1511"/><rect x="1968" y="459" width="6" height="8" fill="#dc5645"/>
<rect x="1983" y="455" width="2" height="30" fill="#727276"/>
<rect x="1979" y="468" width="10" height="3" fill="#5a1511"/>
<rect x="1997" y="430" width="2" height="53" fill="#727276"/>
<rect x="1993" y="440" width="10" height="31" fill="#1b5232"/><rect x="1995" y="442" width="6" height="27" fill="#70a987"/>
<rect x="2010" y="428" width="2" height="38" fill="#727276"/>
<rect x="2006" y="440" width="10" height="18" fill="#5a1511"/><rect x="2008" y="442" width="6" height="14" fill="#dc5645"/>
<rect x="2023" y="450" width="2" height="109" fill="#727276"/>
<rect x="2019" y="457" width="10" height="62" fill="#5a1511"/><rect x="2021" y="459" width="6" height="58" fill="#dc5645"/>
<rect x="2036" y="505" width="2" height="46" fill="#727276"/>
<rect x="2032" y="517" width="10" height="3" fill="#5a1511"/>
<rect x="2049" y="487" width="2" height="43" fill="#727276"/>
<rect x="2045" y="495" width="10" height="24" fill="#1b5232"/><rect x="2047" y="497" width="6" height="20" fill="#70a987"/>
<rect x="2062" y="471" width="2" height="33" fill="#727276"/>
<rect x="2058" y="477" width="10" height="19" fill="#1b5232"/><rect x="2060" y="479" width="6" height="15" fill="#70a987"/>
<rect x="2076" y="415" width="2" height="63" fill="#727276"/>
<rect x="2072" y="421" width="10" height="57" fill="#1b5232"/><rect x="2074" y="423" width="6" height="53" fill="#70a987"/>
<rect x="2089" y="414" width="2" height="67" fill="#727276"/>
<rect x="2085" y="421" width="10" height="35" fill="#5a1511"/><rect x="2087" y="423" width="6" height="31" fill="#dc5645"/>
<rect x="2102" y="434" width="2" height="39" fill="#727276"/>
<rect x="2098" y="438" width="10" height="18" fill="#1b5232"/><rect x="2100" y="440" width="6" height="14" fill="#70a987"/>
<rect x="2115" y="424" width="2" height="28" fill="#727276"/>
<rect x="2111" y="430" width="10" height="10" fill="#1b5232"/><rect x="2113" y="432" width="6" height="6" fill="#70a987"/>
<rect x="2128" y="427" width="2" height="36" fill="#727276"/>
<rect x="2124" y="430" width="10" height="30" fill="#5a1511"/><rect x="2126" y="432" width="6" height="26" fill="#dc5645"/>
<rect x="2141" y="440" width="2" height="26" fill="#727276"/>
<rect x="2137" y="441" width="10" height="19" fill="#1b5232"/><rect x="2139" y="443" width="6" height="15" fill="#70a987"/>
<rect x="2155" y="431" width="2" height="21" fill="#727276"/>
<rect x="2151" y="433" width="10" height="9" fill="#1b5232"/><rect x="2153" y="435" width="6" height="5" fill="#70a987"/>
<rect x="2168" y="431" width="2" height="20" fill="#727276"/>
<rect x="2164" y="433" width="10" height="8" fill="#5a1511"/><rect x="2166" y="435" width="6" height="4" fill="#dc5645"/>
<rect x="2181" y="436" width="2" height="42" fill="#727276"/>
<rect x="2177" y="440" width="10" height="33" fill="#5a1511"/><rect x="2179" y="442" width="6" height="29" fill="#dc5645"/>
<rect x="2194" y="460" width="2" height="40" fill="#727276"/>
<rect x="2190" y="464" width="10" height="9" fill="#1b5232"/><rect x="2192" y="466" width="6" height="5" fill="#70a987"/>
<rect x="2207" y="463" width="2" height="26" fill="#727276"/>
<rect x="2203" y="464" width="10" height="12" fill="#5a1511"/><rect x="2205" y="466" width="6" height="8" fill="#dc5645"/>
<rect x="2221" y="473" width="2" height="29" fill="#727276"/>
<rect x="2217" y="475" width="10" height="9" fill="#5a1511"/><rect x="2219" y="477" width="6" height="5" fill="#dc5645"/>
<rect x="2234" y="448" width="2" height="37" fill="#727276"/>
<rect x="2230" y="453" width="10" height="31" fill="#1b5232"/><rect x="2232" y="455" width="6" height="27" fill="#70a987"/>
<rect x="2247" y="431" width="2" height="27" fill="#727276"/>
<rect x="2243" y="441" width="10" height="13" fill="#1b5232"/><rect x="2245" y="443" width="6" height="9" fill="#70a987"/>
<rect x="2260" y="434" width="2" height="15" fill="#727276"/>
<rect x="2256" y="437" width="10" height="5" fill="#1b5232"/><rect x="2258" y="438.5" width="6" height="2" fill="#70a987" shape-rendering="auto"/>
<rect x="2273" y="426" width="2" height="20" fill="#727276"/>
<rect x="2269" y="430" width="10" height="8" fill="#1b5232"/><rect x="2271" y="432" width="6" height="4" fill="#70a987"/>
<rect x="2286" y="358" width="2" height="79" fill="#727276"/>
<rect x="2282" y="365" width="10" height="67" fill="#1b5232"/><rect x="2284" y="367" width="6" height="63" fill="#70a987"/>
<rect x="2300" y="290" width="2" height="79" fill="#727276"/>
<rect x="2296" y="318" width="10" height="48" fill="#1b5232"/><rect x="2298" y="320" width="6" height="44" fill="#70a987"/>
<rect x="2313" y="305" width="2" height="28" fill="#727276"/>
<rect x="2309" y="309" width="10" height="10" fill="#1b5232"/><rect x="2311" y="311" width="6" height="6" fill="#70a987"/>
<rect x="2326" y="277" width="2" height="44" fill="#727276"/>
<rect x="2322" y="288" width="10" height="22" fill="#1b5232"/><rect x="2324" y="290" width="6" height="18" fill="#70a987"/>
<rect x="2339" y="275" width="2" height="36" fill="#727276"/>
<rect x="2335" y="288" width="10" height="12" fill="#5a1511"/><rect x="2337" y="290" width="6" height="8" fill="#dc5645"/>
<rect x="2352" y="282" width="2" height="66" fill="#727276"/>
<rect x="2348" y="299" width="10" height="23" fill="#5a1511"/><rect x="2350" y="301" width="6" height="19" fill="#dc5645"/>
<rect x="2365" y="288" width="2" height="42" fill="#727276"/>
<rect x="2361" y="288" width="10" height="34" fill="#1b5232"/><rect x="2363" y="290" width="6" height="30" fill="#70a987"/>
<rect x="2379" y="282" width="2" height="23" fill="#727276"/>
<rect x="2375" y="288" width="10" height="9" fill="#5a1511"/><rect x="2377" y="290" width="6" height="5" fill="#dc5645"/>
</g>
<line x1="14" y1="296" x2="2558" y2="296" stroke="#d9513f" stroke-width="2" stroke-dasharray="2 4"/>
<line x1="2301" y1="281.2" x2="2393" y2="279.1" stroke="#3b7a1f" stroke-width="4"/>
<line x1="2301" y1="335.2" x2="2393" y2="331" stroke="#3b7a1f" stroke-width="4"/>
<polyline points="21,1414.5 35,1403.8 48,1397.0 61,1400.8 74,1390.4 87,1403.3 100,1405.8 114,1397.5 127,1403.3 140,1374.5 153,1383.7 166,1366.5 180,1386.6 193,1381.0 206,1386.9 219,1379.5 232,1387.1 245,1384.6 259,1392.1 272,1399.3 285,1395.9 298,1392.8 311,1387.2 324,1394.6 338,1361.1 351,1345.5 364,1337.5 377,1348.0 390,1331.3 403,1311.7 417,1262.6 430,1277.2 443,1271.5 456,1271.3 469,1264.3 483,1253.0 496,1325.4 509,1318.4 522,1321.6 535,1300.8 548,1300.3 562,1315.0 575,1308.7 588,1316.2 601,1307.8 614,1349.4 627,1340.8 641,1330.4 654,1331.9 667,1328.3 680,1325.2 693,1308.0 706,1338.1 720,1353.1 733,1347.5 746,1371.8 759,1363.3 772,1365.1 786,1358.9 799,1389.1 812,1379.9 825,1388.7 838,1374.5 851,1379.0 865,1363.1 878,1368.0 891,1350.5 904,1388.7 917,1443.2 930,1423.1 944,1434.8 957,1429.3 970,1422.1 983,1431.8 996,1425.4 1010,1417.2 1023,1413.9 1036,1410.4 1049,1415.9 1062,1392.1 1075,1385.1 1089,1373.8 1102,1374.8 1115,1375.5 1128,1365.3 1141,1378.4 1154,1411.7 1168,1402.8 1181,1420.1 1194,1384.1 1207,1387.4 1220,1384.6 1233,1381.2 1247,1387.4 1260,1376.2 1273,1381.0 1286,1393.8 1299,1397.1 1313,1399.0 1326,1387.4 1339,1376.0 1352,1393.4 1365,1387.2 1378,1363.9 1392,1354.2 1405,1337.1 1418,1332.3 1431,1322.1 1444,1334.8 1457,1334.8 1471,1329.1 1484,1350.9 1497,1347.9 1510,1336.1 1523,1318.7 1536,1309.0 1550,1273.5 1563,1268.8 1576,1274.8 1589,1269.3 1602,1278.8 1616,1278.0 1629,1260.6 1642,1302.8 1655,1296.6 1668,1292.7 1681,1285.2 1695,1288.7 1708,1310.0 1721,1292.6 1734,1288.7 1747,1257.4 1760,1258.2 1774,1312.3 1787,1296.8 1800,1304.8 1813,1306.8 1826,1297.3 1839,1284.4 1853,1283.9 1866,1300.6 1879,1308.3 1892,1289.4 1905,1273.5 1919,1271.8 1932,1271.0 1945,1259.2 1958,1258.7 1971,1276.8 1984,1280.3 1998,1267.6 2011,1294.4 2024,1361.9 2037,1362.6 2050,1346.4 2063,1335.5 2077,1307.0 2090,1338.5 2103,1330.4 2116,1326.4 2129,1351.4 2142,1341.2 2156,1337.0 2169,1343.7 2182,1370.3 2195,1365.0 2208,1373.5 2222,1379.7 2235,1359.3 2248,1350.7 2261,1348.0 2274,1343.8 2287,1307.0 2301,1288.2 2314,1284.7 2327,1277.3 2340,1290.7 2353,1315.7 2366,1301.1 2380,1309.8" fill="none" stroke="#8e1599" stroke-width="2" stroke-linejoin="miter"/>
<g fill="#434446" shape-rendering="crispEdges">
<rect x="12" y="86" width="2672" height="2"/>
<rect x="12" y="1522" width="2672" height="2"/>
<rect x="12" y="86" width="2" height="1438"/>
<rect x="2682" y="86" width="2" height="1438"/>
<rect x="2558" y="86" width="2" height="1438"/>
<rect x="12" y="1239" width="2672" height="2"/>
<rect x="12" y="1468" width="2672" height="2"/>
<rect x="2560" y="126" width="8" height="2"/>
<rect x="2560" y="226" width="8" height="2"/>
<rect x="2560" y="312" width="8" height="2"/>
<rect x="2560" y="376" width="8" height="2"/>
<rect x="2560" y="446" width="8" height="2"/>
<rect x="2560" y="523" width="8" height="2"/>
<rect x="2560" y="611" width="8" height="2"/>
<rect x="2560" y="685" width="8" height="2"/>
<rect x="2560" y="750" width="8" height="2"/>
<rect x="2560" y="822" width="8" height="2"/>
<rect x="2560" y="888" width="8" height="2"/>
<rect x="2560" y="945" width="8" height="2"/>
<rect x="2560" y="1008" width="8" height="2"/>
<rect x="2560" y="1078" width="8" height="2"/>
<rect x="2560" y="1134" width="8" height="2"/>
<rect x="2560" y="1191" width="8" height="2"/>
<rect x="2560" y="1271" width="8" height="2"/>
<rect x="2560" y="1344" width="8" height="2"/>
<rect x="2560" y="1417" width="8" height="2"/>
<rect x="73" y="1470" width="2" height="6"/>
<rect x="231" y="1470" width="2" height="6"/>
<rect x="482" y="1470" width="2" height="6"/>
<rect x="692" y="1470" width="2" height="6"/>
<rect x="890" y="1470" width="2" height="6"/>
<rect x="1061" y="1470" width="2" height="6"/>
<rect x="1285" y="1470" width="2" height="6"/>
<rect x="1522" y="1470" width="2" height="6"/>
<rect x="1694" y="1470" width="2" height="6"/>
<rect x="1891" y="1470" width="2" height="6"/>
<rect x="2089" y="1470" width="2" height="6"/>
<rect x="2260" y="1470" width="2" height="6"/>
<rect x="2497" y="1470" width="2" height="6"/>
</g>
<text x="2575.44" y="135.0" font-size="23.0" textLength="89.52" lengthAdjust="spacingAndGlyphs" fill="#4d4f54" stroke="#4d4f54" stroke-width="0.5">30000.00</text>
<text x="2575.44" y="235.0" font-size="23.0" textLength="89.52" lengthAdjust="spacingAndGlyphs" fill="#4d4f54" stroke="#4d4f54" stroke-width="0.5">26000.00</text>
<text x="2575.44" y="321.0" font-size="23.0" textLength="89.52" lengthAdjust="spacingAndGlyphs" fill="#4d4f54" stroke="#4d4f54" stroke-width="0.5">23000.00</text>
<text x="2575.44" y="385.0" font-size="23.0" textLength="89.52" lengthAdjust="spacingAndGlyphs" fill="#4d4f54" stroke="#4d4f54" stroke-width="0.5">21000.00</text>
<text x="2575.44" y="455.0" font-size="23.0" textLength="89.52" lengthAdjust="spacingAndGlyphs" fill="#4d4f54" stroke="#4d4f54" stroke-width="0.5">19000.00</text>
<text x="2575.44" y="532.0" font-size="23.0" textLength="89.52" lengthAdjust="spacingAndGlyphs" fill="#4d4f54" stroke="#4d4f54" stroke-width="0.5">17000.00</text>
<text x="2575.44" y="620.0" font-size="23.0" textLength="89.52" lengthAdjust="spacingAndGlyphs" fill="#4d4f54" stroke="#4d4f54" stroke-width="0.5">15000.00</text>
<text x="2575.44" y="694.0" font-size="23.0" textLength="89.52" lengthAdjust="spacingAndGlyphs" fill="#4d4f54" stroke="#4d4f54" stroke-width="0.5">13500.00</text>
<text x="2575.44" y="759.0" font-size="23.0" textLength="89.52" lengthAdjust="spacingAndGlyphs" fill="#4d4f54" stroke="#4d4f54" stroke-width="0.5">12300.00</text>
<text x="2575.44" y="831.0" font-size="23.0" textLength="89.52" lengthAdjust="spacingAndGlyphs" fill="#4d4f54" stroke="#4d4f54" stroke-width="0.5">11100.00</text>
<text x="2575.44" y="897.0" font-size="23.0" textLength="89.52" lengthAdjust="spacingAndGlyphs" fill="#4d4f54" stroke="#4d4f54" stroke-width="0.5">10100.00</text>
<text x="2576.01" y="954.0" font-size="23.0" textLength="77.11" lengthAdjust="spacingAndGlyphs" fill="#4d4f54" stroke="#4d4f54" stroke-width="0.5">9300.00</text>
<text x="2576.01" y="1017.0" font-size="23.0" textLength="77.11" lengthAdjust="spacingAndGlyphs" fill="#4d4f54" stroke="#4d4f54" stroke-width="0.5">8500.00</text>
<text x="2576.01" y="1087.0" font-size="23.0" textLength="77.11" lengthAdjust="spacingAndGlyphs" fill="#4d4f54" stroke="#4d4f54" stroke-width="0.5">7700.00</text>
<text x="2576.01" y="1143.0" font-size="23.0" textLength="77.11" lengthAdjust="spacingAndGlyphs" fill="#4d4f54" stroke="#4d4f54" stroke-width="0.5">7100.00</text>
<text x="2576.01" y="1200.0" font-size="23.0" textLength="77.11" lengthAdjust="spacingAndGlyphs" fill="#4d4f54" stroke="#4d4f54" stroke-width="0.5">6550.00</text>
<text x="2575.59" y="1280.0" font-size="23.0" textLength="54.17" lengthAdjust="spacingAndGlyphs" fill="#4d4f54" stroke="#4d4f54" stroke-width="0.5">80.00</text>
<text x="2575.59" y="1353.0" font-size="23.0" textLength="54.17" lengthAdjust="spacingAndGlyphs" fill="#4d4f54" stroke="#4d4f54" stroke-width="0.5">60.00</text>
<text x="2575.59" y="1426.0" font-size="23.0" textLength="54.17" lengthAdjust="spacingAndGlyphs" fill="#4d4f54" stroke="#4d4f54" stroke-width="0.5">40.00</text>
<text x="59.80" y="1506.0" font-size="23.0" textLength="29.24" lengthAdjust="spacingAndGlyphs" fill="#4d4f54" stroke="#4d4f54" stroke-width="0.5">Jul</text>
<text x="220.82" y="1506.0" font-size="23.0" textLength="22.21" lengthAdjust="spacingAndGlyphs" fill="#4d4f54" stroke="#4d4f54" stroke-width="0.5">13</text>
<text x="464.70" y="1506.0" font-size="23.0" textLength="36.48" lengthAdjust="spacingAndGlyphs" fill="#4d4f54" stroke="#4d4f54" stroke-width="0.5">Aug</text>
<text x="681.40" y="1506.0" font-size="23.0" textLength="23.59" lengthAdjust="spacingAndGlyphs" fill="#4d4f54" stroke="#4d4f54" stroke-width="0.5">17</text>
<text x="872.77" y="1506.0" font-size="23.0" textLength="36.00" lengthAdjust="spacingAndGlyphs" fill="#4d4f54" stroke="#4d4f54" stroke-width="0.5">Sep</text>
<text x="1050.25" y="1506.0" font-size="23.0" textLength="23.38" lengthAdjust="spacingAndGlyphs" fill="#4d4f54" stroke="#4d4f54" stroke-width="0.5">14</text>
<text x="1267.65" y="1506.0" font-size="23.0" textLength="34.71" lengthAdjust="spacingAndGlyphs" fill="#4d4f54" stroke="#4d4f54" stroke-width="0.5">Oct</text>
<text x="1511.21" y="1506.0" font-size="23.0" textLength="23.87" lengthAdjust="spacingAndGlyphs" fill="#4d4f54" stroke="#4d4f54" stroke-width="0.5">19</text>
<text x="1675.28" y="1506.0" font-size="23.0" textLength="37.18" lengthAdjust="spacingAndGlyphs" fill="#4d4f54" stroke="#4d4f54" stroke-width="0.5">Nov</text>
<text x="1880.13" y="1506.0" font-size="23.0" textLength="23.48" lengthAdjust="spacingAndGlyphs" fill="#4d4f54" stroke="#4d4f54" stroke-width="0.5">16</text>
<text x="2070.63" y="1506.0" font-size="23.0" textLength="37.28" lengthAdjust="spacingAndGlyphs" fill="#4d4f54" stroke="#4d4f54" stroke-width="0.5">Dec</text>
<text x="2248.97" y="1506.0" font-size="23.0" textLength="23.19" lengthAdjust="spacingAndGlyphs" fill="#4d4f54" stroke="#4d4f54" stroke-width="0.5">14</text>
<text x="2472.64" y="1506.0" font-size="23.0" textLength="49.22" lengthAdjust="spacingAndGlyphs" font-weight="bold" fill="#4d4f54" stroke="#4d4f54" stroke-width="0.2">2021</text>
<rect x="2591" y="101" width="58" height="36" rx="8" ry="8" fill="#f3e0d0" stroke="#cdd5e2" stroke-width="2"/>
<text x="2600.80" y="126.8" font-size="23.0" textLength="38.32" lengthAdjust="spacingAndGlyphs" fill="#4d4f54" stroke="#4d4f54" stroke-width="0.5">USD</text>
<rect x="2558" y="279" width="124" height="34" fill="#d9513f" shape-rendering="crispEdges"/>
<rect x="2558" y="295" width="8" height="2" fill="#fff" shape-rendering="crispEdges"/>
<text x="2575.87" y="303.3" font-size="23.0" textLength="88.66" lengthAdjust="spacingAndGlyphs" fill="#fff" stroke="#fff" stroke-width="0.5">23554.22</text>
<rect x="2572" y="315" width="110" height="34" fill="#d9513f" shape-rendering="crispEdges"/>
<text x="2580.36" y="339.2" font-size="23.0" textLength="84.51" lengthAdjust="spacingAndGlyphs" fill="#fff" stroke="#fff" stroke-width="0.5">15:38:26</text>
<text x="29.09" y="129.0" font-size="24.8" textLength="405.69" lengthAdjust="spacingAndGlyphs" font-weight="bold" fill="#555555">Bitcoin / U.S. Dollar, 1D, COINBASE</text>
<text x="30.36" y="162.6" font-size="24.8" textLength="38.61" lengthAdjust="spacingAndGlyphs" fill="#555555">Vol</text>
<text x="28.82" y="1281.8" font-size="24.8" textLength="158.30" lengthAdjust="spacingAndGlyphs" fill="#555555">RSI (14, close)</text>
<text x="10.69" y="33.0" font-size="24.8" textLength="160.67" lengthAdjust="spacingAndGlyphs" font-weight="bold" fill="#131722">bitcoinwallah</text>
<text x="176.68" y="33.0" font-size="24.8" textLength="112.14" lengthAdjust="spacingAndGlyphs" fill="#131722">published</text>
<text x="294.66" y="33.0" font-size="24.8" textLength="30.64" lengthAdjust="spacingAndGlyphs" fill="#131722">on</text>
<text x="330.71" y="33.0" font-size="24.8" textLength="205.04" lengthAdjust="spacingAndGlyphs" fill="#131722">TradingView.com,</text>
<text x="541.63" y="33.0" font-size="24.8" textLength="118.22" lengthAdjust="spacingAndGlyphs" fill="#131722">December</text>
<text x="665.89" y="33.0" font-size="24.8" textLength="35.97" lengthAdjust="spacingAndGlyphs" fill="#131722">23,</text>
<text x="706.12" y="33.0" font-size="24.8" textLength="56.74" lengthAdjust="spacingAndGlyphs" fill="#131722">2020</text>
<text x="769.02" y="33.0" font-size="24.8" textLength="99.33" lengthAdjust="spacingAndGlyphs" fill="#131722">08:21:36</text>
<text x="875.07" y="33.0" font-size="24.8" textLength="55.75" lengthAdjust="spacingAndGlyphs" fill="#131722">GMT</text>
<text x="11.59" y="66.7" font-size="24.8" textLength="229.42" lengthAdjust="spacingAndGlyphs" font-weight="bold" fill="#131722">COINBASE:BTCUSD,</text>
<text x="245.94" y="66.7" font-size="24.8" textLength="31.74" lengthAdjust="spacingAndGlyphs" font-weight="bold" fill="#131722">1D</text>
<text x="287.29" y="66.7" font-size="24.8" textLength="105.51" lengthAdjust="spacingAndGlyphs" fill="#131722">23554.22</text>
<text x="427.17" y="66.7" font-size="24.8" textLength="89.97" lengthAdjust="spacingAndGlyphs" fill="#131722">−269.05</text>
<text x="523.82" y="66.7" font-size="24.8" textLength="99.70" lengthAdjust="spacingAndGlyphs" fill="#131722">(−1.13%)</text>
<text x="631.00" y="66.7" font-size="24.8" textLength="28.10" lengthAdjust="spacingAndGlyphs" font-weight="bold" fill="#131722">O:</text>
<text x="660.34" y="66.7" font-size="24.8" textLength="104.24" lengthAdjust="spacingAndGlyphs" fill="#ef5350">23824.13</text>
<text x="772.56" y="66.7" font-size="24.8" textLength="27.26" lengthAdjust="spacingAndGlyphs" font-weight="bold" fill="#131722">H:</text>
<text x="801.09" y="66.7" font-size="24.8" textLength="104.56" lengthAdjust="spacingAndGlyphs" fill="#ef5350">24042.00</text>
<text x="914.26" y="66.7" font-size="24.8" textLength="20.41" lengthAdjust="spacingAndGlyphs" font-weight="bold" fill="#131722">L:</text>
<text x="936.29" y="66.7" font-size="24.8" textLength="104.27" lengthAdjust="spacingAndGlyphs" fill="#ef5350">23311.01</text>
<text x="1049.00" y="66.7" font-size="24.8" textLength="23.55" lengthAdjust="spacingAndGlyphs" font-weight="bold" fill="#131722">C:</text>
<text x="1074.53" y="66.7" font-size="24.8" textLength="104.59" lengthAdjust="spacingAndGlyphs" fill="#ef5350">23554.22</text>
<path d="M398.9 48.9h20.2l-10.1 20.1z" fill="#ef5350"/>
<g>
<g fill="#2196f3"><circle cx="34" cy="1556.8" r="12"/><circle cx="21.2" cy="1565.5" r="9.5"/><circle cx="51.7" cy="1560.7" r="8"/><circle cx="56.5" cy="1567.6" r="7.5"/><rect x="21.2" y="1560" width="35.3" height="15.1"/></g>
<path d="M13.2 1571.6 L31.6 1556.8 L44 1567.3 L57.8 1554.6" fill="none" stroke="#fff" stroke-width="2.4"/>
<circle cx="31.6" cy="1556.8" r="3.8" fill="#fff"/><circle cx="44" cy="1567.3" r="3.8" fill="#fff"/>
<text x="67.94" y="1567.8" font-size="26.2" textLength="141.03" lengthAdjust="spacingAndGlyphs" fill="#131722" stroke="#131722" stroke-width="0.4">TradingView</text>
</g>
</svg>
</body></html>
